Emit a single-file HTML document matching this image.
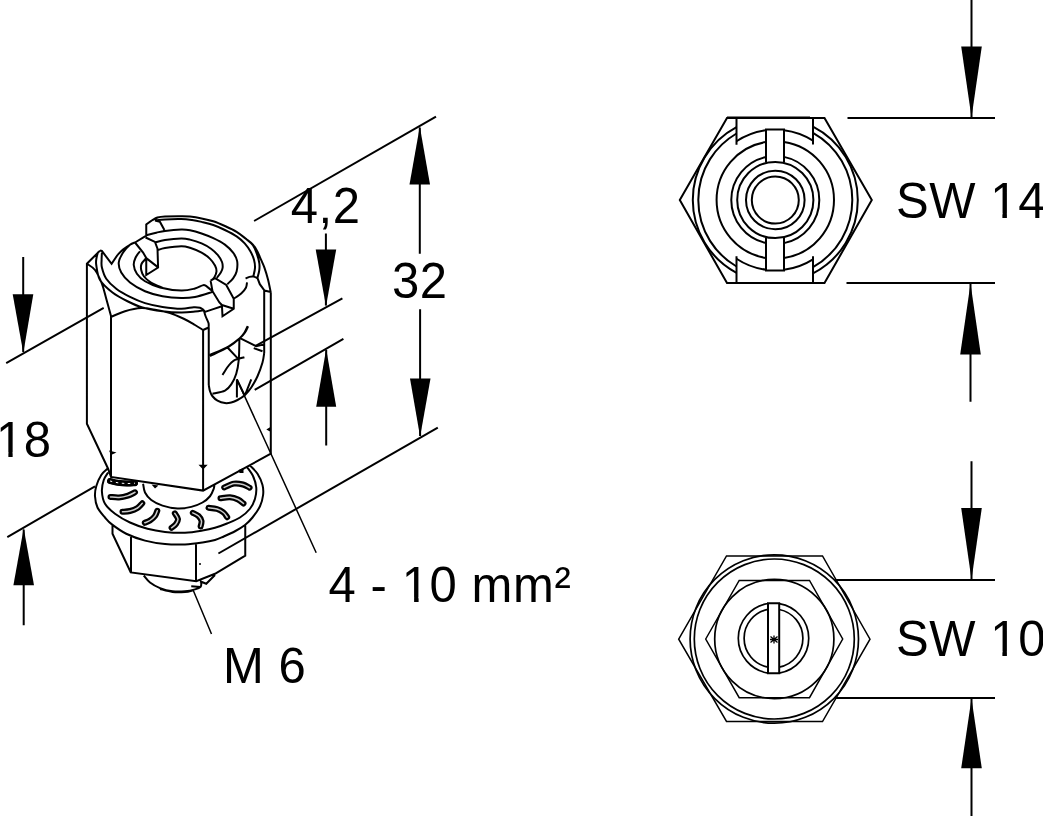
<!DOCTYPE html>
<html>
<head>
<meta charset="utf-8">
<title>Drawing</title>
<style>
html,body{margin:0;padding:0;background:#fff;}
body{width:1043px;height:816px;overflow:hidden;}
svg{display:block;}
text{font-family:"Liberation Sans",sans-serif;font-size:49px;letter-spacing:0.6px;fill:#000;}
.l{fill:none;stroke:#000;stroke-width:2;stroke-linecap:butt;stroke-linejoin:miter;}
.t{fill:none;stroke:#000;stroke-width:1.5;}
.m{fill:none;stroke:#000;stroke-width:1.7;}
.a{fill:#000;stroke:none;}
</style>
</head>
<body>
<svg width="1043" height="816" viewBox="0 0 1043 816">
<rect x="0" y="0" width="1043" height="816" fill="#fff"/>

<!-- ===== DIMENSIONS: right side ===== -->
<g id="dims-right">
<path class="l" d="M847.5 118H995 M846.5 283H995 M835 580H995 M835 698H995"/>
<path class="l" d="M971.5 0V117 M970.5 284V401.75 M971.5 461.25V579 M971.5 699V816"/>
<path class="a" d="M961.2 46.5H981.8L971.5 117.5Z"/>
<path class="a" d="M960.2 354.5H980.8L970.5 283.5Z"/>
<path class="a" d="M961.2 508H981.8L971.5 579.5Z"/>
<path class="a" d="M961.2 768.3H981.8L971.5 698.5Z"/>
<text transform="translate(896 217.7) scale(1 1.02)">SW 14</text>
<text transform="translate(896 655.7) scale(1 1.02)">SW 10</text>
</g>

<!-- ===== DIMENSIONS: left side ===== -->
<g id="dims-left">
<!-- 18 -->
<path class="l" d="M6.2 363.2L103.7 307.8 M7.3 537.1L95 486.3"/>
<path class="l" d="M23.2 257V352 M23.7 529.5V625.2"/>
<path class="a" d="M12.7 294.3H33.3L23.3 353Z"/>
<path class="a" d="M13.4 585.2H34L23.7 528.3Z"/>
<!-- 32 -->
<path class="l" d="M254.1 221L436 116.7"/>
<path class="l" d="M218.4 553.5L437.8 427.7"/>
<path class="l" d="M419.8 127.5V253.8 M420.1 309.2V436"/>
<path class="a" d="M409.5 184.5H430L419.8 126.5Z"/>
<path class="a" d="M410 378.5H430.5L420.1 436.8Z"/>
<!-- 4,2 -->
<path class="l" d="M255.2 346.1L342.4 298.4 M254.7 389.8L343.4 338.8"/>
<path class="l" d="M325.9 233.5V305.5 M326.2 350V445.4"/>
<path class="a" d="M315.7 249.4H336.2L326 306.5Z"/>
<path class="a" d="M316.2 406.7H336.2L326.2 349.1Z"/>
<text transform="translate(290.7 222.5) scale(1 1.02)">4,2</text>
<text transform="translate(392 298.3) scale(1 1.02)">32</text>
<text transform="translate(-4 457.3) scale(1 1.02)">18</text>
<text transform="translate(328.5 602.3) scale(1 1.02)">4 - 10 mm²</text>
<text transform="translate(223 683.2) scale(1 1.02)">M 6</text>
</g>

<g id="feet" fill="#fff" stroke="none">
<rect x="992" y="213.4" width="10.4" height="5.4"/><rect x="1006.9" y="213.4" width="10.6" height="5.4"/>
<rect x="992" y="651.4" width="10.4" height="5.4"/><rect x="1006.9" y="651.4" width="10.6" height="5.4"/>
<rect x="-2" y="452.4" width="10.35" height="5.4"/><rect x="12.64" y="452.4" width="10.6" height="5.4"/>
<rect x="403" y="597.4" width="11.1" height="5.4"/><rect x="418.6" y="597.4" width="10.4" height="5.4"/>
</g>
<!-- ===== TOP VIEW (SW 14) ===== -->
<g id="topview">
<path class="l" d="M679.8 200L727 118H824.5L871.8 200L824.5 283H727Z"/>
<path class="l" d="M727 117.5H810"/>
<path class="l" d="M813.00 126.62A82.5 82.5 0 0 1 813.00 273.38 M736.50 272.81A82.5 82.5 0 0 1 736.50 127.19 M813.00 132.86A77 77 0 0 1 813.00 267.14 M736.50 266.51A77 77 0 0 1 736.50 133.49 M736.50 141.26A70.4 70.4 0 0 1 766.00 130.22 M784.00 130.14A70.4 70.4 0 0 1 813.00 140.55 M813.00 259.45A70.4 70.4 0 0 1 784.00 269.86 M766.00 269.78A70.4 70.4 0 0 1 736.50 258.74 M784.00 141.95A58.7 58.7 0 0 1 784.00 258.05 M766.00 257.96A58.7 58.7 0 0 1 766.00 142.04 M784.00 156.87A44 44 0 0 1 784.00 243.13 M766.00 243.01A44 44 0 0 1 766.00 156.99"/>
<circle class="l" cx="775.3" cy="200.0" r="38.1"/>
<circle class="l" cx="775.3" cy="200.0" r="29.3"/>
<circle class="l" cx="775.3" cy="200.0" r="23.5"/>
<path class="l" d="M736.5 118V144.8 M813.0 118V144.6 M736.5 283V256.3 M813.0 283V256.3"/>
<path class="l" d="M766.0 162.5V129.5H784.0V162.5 M766.0 237.5V270.5H784.0V237.5"/>
</g>

<!-- ===== BOTTOM VIEW (SW 10) ===== -->
<g id="botview">
<path class="t" d="M678.7 639.2L726.5 556H822.5L870 639.2L822.5 721.5H726.5Z"/>
<path class="t" d="M705.7 639L739.2 580.5H809.5L842.7 639L809.5 697.7H739.2Z"/>
<circle class="m" cx="774.3" cy="639.0" r="84.2"/>
<circle class="m" cx="774.3" cy="639.0" r="80"/>
<circle class="m" cx="774.3" cy="639.0" r="59.6"/>
<path class="m" d="M768.0 673.07A35.2 35.2 0 0 1 768.0 603.53 M779.2 603.56A35.2 35.2 0 0 1 779.2 673.04 M768.0 667.18A29.4 29.4 0 0 1 768.0 609.42 M779.2 609.46A29.4 29.4 0 0 1 779.2 667.14"/>
<path class="l" d="M768.0 603.3V673.3H779.2V603.3Z"/>
<path d="M770.5 636.5L777.5 642.5M777.5 636.5L770.5 642.5M774 635.5V643.5M770 639.5H778" fill="none" stroke="#000" stroke-width="1.3"/>
</g>

<!-- ===== ISO VIEW ===== -->
<g id="iso">
<path class="l" d="M100.00 250.60L86.90 263.75L86.90 423.75L108.10 468.75L111.00 476.90
M111.00 316.00L111.00 476.90L203.10 490.60L270.80 453.75L270.80 292.50
M203.10 330.00L203.10 490.60
M264.20 290.60L264.20 353.00
M100.00 250.60L101.90 251.00L111.60 263.75L117.50 255.00
M117.50 255.00C118.42 254.08 120.92 251.21 123.00 249.50C125.08 247.79 128.00 245.92 130.00 244.75C132.00 243.58 134.17 242.88 135.00 242.50
M86.90 263.75C88.25 264.79 92.50 266.67 95.00 270.00C97.50 273.33 100.03 278.96 101.90 283.75C103.78 288.54 104.73 293.38 106.25 298.75C107.77 304.12 110.21 313.12 111.00 316.00
M111.00 316.90C113.33 315.96 119.96 312.72 125.00 311.25C130.04 309.78 136.04 308.31 141.25 308.10C146.46 307.89 151.46 309.17 156.25 310.00C161.04 310.83 165.42 311.64 170.00 313.10C174.58 314.56 179.58 316.77 183.75 318.75C187.92 320.73 191.78 323.12 195.00 325.00C198.22 326.88 201.75 329.17 203.10 330.00
M98.00 252.00C97.75 253.00 96.79 255.83 96.50 258.00C96.21 260.17 95.67 261.33 96.25 265.00C96.83 268.67 97.29 275.42 100.00 280.00C102.71 284.58 107.92 288.96 112.50 292.50C117.08 296.04 122.50 298.75 127.50 301.25C132.50 303.75 136.67 305.83 142.50 307.50C148.33 309.17 156.04 310.42 162.50 311.25C168.96 312.08 175.83 312.44 181.25 312.50C186.67 312.56 191.29 311.97 195.00 311.60C198.71 311.23 202.08 310.52 203.50 310.30
M101.90 252.50C101.85 253.75 101.60 257.50 101.60 260.00C101.60 262.50 101.12 264.38 101.90 267.50C102.68 270.62 103.86 275.21 106.25 278.75C108.64 282.29 112.29 285.73 116.25 288.75C120.21 291.77 125.21 294.51 130.00 296.90C134.79 299.29 139.58 301.43 145.00 303.10C150.42 304.77 156.46 305.96 162.50 306.90C168.54 307.84 176.04 308.70 181.25 308.75C186.46 308.80 190.62 307.36 193.75 307.20C196.88 307.04 198.33 307.33 200.00 307.80C201.67 308.27 203.12 309.63 203.75 310.00
M135.00 242.50C134.17 242.88 131.98 243.08 130.00 244.75C128.02 246.42 124.97 249.54 123.10 252.50C121.22 255.46 119.06 259.17 118.75 262.50C118.44 265.83 119.38 269.17 121.25 272.50C123.12 275.83 126.04 279.38 130.00 282.50C133.96 285.62 139.58 288.96 145.00 291.25C150.42 293.54 156.46 295.11 162.50 296.25C168.54 297.39 175.83 297.98 181.25 298.10C186.67 298.23 189.79 298.03 195.00 297.00C200.21 295.97 209.58 292.75 212.50 291.90
M140.00 251.25C139.27 252.29 136.64 255.21 135.60 257.50C134.56 259.79 133.53 262.29 133.75 265.00C133.97 267.71 135.03 271.04 136.90 273.75C138.78 276.46 141.15 278.96 145.00 281.25C148.85 283.54 153.96 285.94 160.00 287.50C166.04 289.06 175.42 290.43 181.25 290.60C187.08 290.77 191.46 289.37 195.00 288.50C198.54 287.63 200.73 285.88 202.50 285.40C204.27 284.92 203.93 284.62 205.60 285.60C207.27 286.58 211.35 290.31 212.50 291.25
M146.00 258.50C145.25 259.42 142.30 262.08 141.50 264.00C140.70 265.92 140.78 267.92 141.20 270.00C141.62 272.08 142.37 274.42 144.00 276.50C145.63 278.58 147.83 280.62 151.00 282.50C154.17 284.38 161.00 286.92 163.00 287.80
M146.25 224.40C147.29 223.67 150.62 221.15 152.50 220.00C154.38 218.85 155.42 218.08 157.50 217.50C159.58 216.92 161.04 216.71 165.00 216.50C168.96 216.29 177.08 216.23 181.25 216.25C185.42 216.27 186.61 216.24 190.00 216.60C193.39 216.96 197.72 217.62 201.60 218.40C205.48 219.18 209.42 220.03 213.30 221.30C217.18 222.57 221.02 224.25 224.90 226.00C228.78 227.75 233.10 229.67 236.60 231.80C240.10 233.93 243.18 236.67 245.90 238.80C248.62 240.93 250.97 242.47 252.90 244.60C254.83 246.73 256.15 249.08 257.50 251.60C258.85 254.12 259.83 256.98 261.00 259.70C262.17 262.42 263.33 264.60 264.50 267.90C265.67 271.20 266.95 275.40 268.00 279.50C269.05 283.60 270.33 290.33 270.80 292.50
M245.90 238.80C247.07 239.87 251.07 242.68 252.90 245.20C254.73 247.72 255.83 250.90 256.90 253.90C257.97 256.90 258.90 260.48 259.30 263.20C259.70 265.92 259.60 267.77 259.30 270.20C259.00 272.63 257.80 276.53 257.50 277.80
M155.00 220.60C156.67 220.40 160.62 219.67 165.00 219.40C169.38 219.13 176.75 218.90 181.25 219.00C185.75 219.10 188.61 219.52 192.00 220.00C195.39 220.48 198.05 221.07 201.60 221.90C205.15 222.73 209.42 223.65 213.30 225.00C217.18 226.35 221.02 228.10 224.90 230.00C228.78 231.90 233.30 234.17 236.60 236.40C239.90 238.63 242.38 240.87 244.70 243.40C247.02 245.93 248.95 248.88 250.50 251.60C252.05 254.32 253.25 256.98 254.00 259.70C254.75 262.42 255.10 265.18 255.00 267.90C254.90 270.62 253.67 274.65 253.40 276.00
M146.90 235.00C148.46 234.62 153.23 233.43 156.25 232.75C159.27 232.07 160.83 231.43 165.00 230.90C169.17 230.38 177.08 229.70 181.25 229.60C185.42 229.50 186.61 229.65 190.00 230.30C193.39 230.95 197.72 232.18 201.60 233.50C205.48 234.82 209.42 236.35 213.30 238.20C217.18 240.05 221.60 242.18 224.90 244.60C228.20 247.02 231.07 249.98 233.10 252.70C235.13 255.42 236.52 257.78 237.10 260.90C237.68 264.02 237.27 268.50 236.60 271.40C235.93 274.30 234.65 276.17 233.10 278.30C231.55 280.43 228.27 283.22 227.30 284.20
M155.00 242.50C156.67 242.08 160.62 240.67 165.00 240.00C169.38 239.33 177.08 238.57 181.25 238.50C185.42 238.43 186.61 238.78 190.00 239.60C193.39 240.42 198.10 241.88 201.60 243.40C205.10 244.92 208.28 246.75 211.00 248.70C213.72 250.65 216.07 252.88 217.90 255.10C219.73 257.32 221.22 259.87 222.00 262.00C222.78 264.13 222.80 266.15 222.60 267.90C222.40 269.65 221.77 270.85 220.80 272.50C219.83 274.15 217.47 276.92 216.80 277.80
M158.10 250.00C159.25 249.68 161.14 248.72 165.00 248.10C168.86 247.47 177.08 246.30 181.25 246.25C185.42 246.20 186.61 246.73 190.00 247.80C193.39 248.88 198.30 250.90 201.60 252.70C204.90 254.50 207.57 256.47 209.80 258.60C212.03 260.73 213.88 263.37 215.00 265.50C216.12 267.63 216.60 269.45 216.50 271.40C216.40 273.35 215.32 275.65 214.40 277.20C213.48 278.75 211.57 280.12 211.00 280.70
M157.50 217.50L152.50 220.00L146.25 224.40L146.25 235.60L135.00 242.50
M155.00 220.60L160.00 221.90L164.40 230.00
M145.60 237.50L155.00 241.90L157.50 248.75L158.10 267.50L146.25 275.00L146.25 258.10L157.50 266.90
M135.00 242.50L143.10 252.50L146.25 258.10
M210.60 280.60L215.00 278.10L226.25 285.00L233.75 298.75L233.75 308.75L222.50 316.25L221.90 305.00L219.40 302.50L212.50 291.25L210.60 280.60
M221.90 305.00L233.75 308.75
M203.75 310.00L205.00 311.90L212.50 309.40L221.90 306.25
M203.75 310.00C204.06 311.04 204.81 314.07 205.60 316.25C206.39 318.43 208.00 321.23 208.50 323.10C209.00 324.98 208.58 326.77 208.60 327.50
M208.60 327.50L203.10 330.00
M233.75 298.75C234.99 297.88 239.17 295.34 241.20 293.50C243.22 291.66 244.93 289.55 245.90 287.70C246.87 285.85 246.82 283.28 247.00 282.40
M245.60 278.60C246.23 278.32 248.10 277.23 249.40 276.90C250.70 276.57 252.05 276.40 253.40 276.60C254.75 276.80 256.82 277.85 257.50 278.10
M257.50 278.10L259.80 284.20L264.50 290.60L270.80 292.00
M208.75 327.5L208.75 385
M208.75 385.00C208.96 386.04 209.38 389.38 210.00 391.25C210.62 393.12 211.25 394.69 212.50 396.25C213.75 397.81 215.42 399.46 217.50 400.60C219.58 401.74 222.71 402.78 225.00 403.10C227.29 403.42 229.17 403.02 231.25 402.50C233.33 401.98 235.21 401.25 237.50 400.00C239.79 398.75 242.71 397.08 245.00 395.00C247.29 392.92 249.17 390.62 251.25 387.50C253.33 384.38 255.62 380.42 257.50 376.25C259.38 372.08 261.38 366.38 262.50 362.50C263.62 358.62 263.92 354.58 264.20 353.00
M248.10 326.25C247.58 327.29 246.35 330.52 245.00 332.50C243.65 334.48 242.71 335.81 240.00 338.10C237.29 340.39 233.75 343.43 228.75 346.25C223.75 349.07 213.12 353.54 210.00 355.00
M247.60 326.25C247.08 327.29 245.85 330.46 244.50 332.50C243.15 334.54 242.17 336.08 239.50 338.50C236.83 340.92 233.42 344.08 228.50 347.00C223.58 349.92 213.08 354.50 210.00 356.00
M212.50 393.75C214.58 393.23 221.88 392.16 225.00 390.60C228.12 389.04 229.38 387.21 231.25 384.40C233.12 381.59 235.00 377.82 236.25 373.75C237.50 369.68 238.22 365.83 238.75 360.00C239.28 354.17 239.29 342.29 239.40 338.75
M227.50 347.50L237.50 358.10
M222.50 375.00C223.42 373.58 226.12 368.90 228.00 366.50C229.88 364.10 231.02 362.14 233.75 360.60C236.48 359.06 242.62 357.81 244.40 357.25
M240.00 338.10L256.25 346.25L264.20 344.40
M253.75 348.10L262.50 351.25
M236.90 397.50L236.90 379.40L244.40 395.00
M251.25 379.40L245.00 395.00
M107.50 468.75C106.46 469.79 103.12 472.08 101.25 475.00C99.38 477.92 97.29 482.71 96.25 486.25C95.21 489.79 94.79 492.71 95.00 496.25C95.21 499.79 95.83 503.96 97.50 507.50C99.17 511.04 102.60 514.68 105.00 517.50C107.40 520.32 108.36 521.69 111.90 524.40C115.44 527.11 120.73 531.05 126.25 533.75C131.77 536.45 138.54 538.89 145.00 540.60C151.46 542.31 158.33 543.37 165.00 544.00C171.67 544.63 178.75 544.65 185.00 544.40C191.25 544.15 197.50 543.23 202.50 542.50C207.50 541.77 211.46 541.00 215.00 540.00C218.54 539.00 220.42 537.96 223.75 536.50C227.08 535.04 231.46 533.17 235.00 531.25C238.54 529.33 242.08 527.29 245.00 525.00C247.92 522.71 250.00 520.62 252.50 517.50C255.00 514.38 258.23 510.00 260.00 506.25C261.77 502.50 262.68 498.54 263.10 495.00C263.52 491.46 263.43 488.54 262.50 485.00C261.57 481.46 259.58 476.98 257.50 473.75C255.42 470.52 251.25 466.96 250.00 465.60
M108.10 472.50C107.38 473.75 104.78 476.88 103.75 480.00C102.72 483.12 101.69 487.29 101.90 491.25C102.11 495.21 102.82 500.00 105.00 503.75C107.18 507.50 110.83 510.62 115.00 513.75C119.17 516.88 124.58 520.00 130.00 522.50C135.42 525.00 141.67 527.18 147.50 528.75C153.33 530.32 158.75 531.23 165.00 531.90C171.25 532.57 178.75 532.97 185.00 532.75C191.25 532.53 197.50 531.43 202.50 530.60C207.50 529.77 210.92 528.98 215.00 527.80C219.08 526.62 222.83 525.22 227.00 523.50C231.17 521.78 236.17 519.96 240.00 517.50C243.83 515.04 247.50 511.88 250.00 508.75C252.50 505.62 253.96 502.29 255.00 498.75C256.04 495.21 256.57 491.25 256.25 487.50C255.93 483.75 254.66 479.68 253.10 476.25C251.54 472.82 247.93 468.46 246.90 466.90
M143.10 483.75C143.42 485.21 143.64 489.79 145.00 492.50C146.36 495.21 148.33 497.82 151.25 500.00C154.17 502.18 158.12 504.18 162.50 505.60C166.88 507.02 172.71 508.28 177.50 508.50C182.29 508.72 187.08 507.90 191.25 506.90C195.42 505.90 199.38 504.27 202.50 502.50C205.62 500.73 208.12 498.54 210.00 496.25C211.88 493.96 213.02 490.69 213.75 488.75C214.48 486.81 214.29 485.29 214.40 484.60
M112.50 525.60L112.50 533.75L130.80 572.50
M131.00 536.25L131.00 572.50L196.25 581.25L215.00 573.75L245.25 555.60L245.25 525.60
M196.00 544.40L196.00 581.25
M143.75 575.60C144.79 576.75 147.29 580.42 150.00 582.50C152.71 584.58 156.25 586.64 160.00 588.10C163.75 589.56 168.33 590.73 172.50 591.25C176.67 591.77 181.25 591.56 185.00 591.25C188.75 590.94 192.40 590.12 195.00 589.40C197.60 588.67 199.56 588.05 200.60 586.90C201.64 585.75 201.14 583.23 201.25 582.50
M160.00 589.00C162.08 589.50 168.33 591.50 172.50 592.00C176.67 592.50 181.58 592.28 185.00 592.00C188.42 591.72 191.67 590.58 193.00 590.30
M200.00 581.25L206.25 583.75L215.00 575.00
M191.25 586.25L200.60 586.90"/>
<path class="t" d="M236.9 379.4L316.2 552.7 M193.1 590L211.5 634"/>
<path d="M110.00 481.00C111.33 481.30 115.17 482.38 118.00 482.80C120.83 483.22 124.17 483.43 127.00 483.50C129.83 483.57 133.67 483.25 135.00 483.20 M110.50 496.90C111.92 497.00 116.08 497.72 119.00 497.50C121.92 497.28 125.33 496.47 128.00 495.60C130.67 494.73 133.83 492.85 135.00 492.30 M122.50 511.80C123.75 511.67 127.50 511.63 130.00 511.00C132.50 510.37 135.45 509.28 137.50 508.00C139.55 506.72 141.50 504.08 142.30 503.30 M144.80 522.80C145.67 522.42 148.30 521.63 150.00 520.50C151.70 519.37 153.78 517.62 155.00 516.00C156.22 514.38 156.92 511.67 157.30 510.80 M171.60 527.80C172.33 527.17 174.93 525.47 176.00 524.00C177.07 522.53 178.20 520.78 178.00 519.00C177.80 517.22 175.33 514.25 174.80 513.30 M200.60 526.50C200.75 525.58 201.85 522.75 201.50 521.00C201.15 519.25 199.95 517.37 198.50 516.00C197.05 514.63 193.75 513.33 192.80 512.80 M227.20 517.20C226.58 516.42 225.20 513.87 223.50 512.50C221.80 511.13 219.50 509.78 217.00 509.00C214.50 508.22 209.92 508.00 208.50 507.80 M243.50 503.50C242.58 502.83 240.25 500.53 238.00 499.50C235.75 498.47 232.92 497.52 230.00 497.30C227.08 497.08 222.08 498.05 220.50 498.20 M249.60 487.70C248.50 487.17 245.60 485.18 243.00 484.50C240.40 483.82 237.13 483.10 234.00 483.60C230.87 484.10 225.83 486.85 224.20 487.50" fill="none" stroke="#000" stroke-width="6" stroke-linecap="round"/><path d="M110.00 481.00C111.33 481.30 115.17 482.38 118.00 482.80C120.83 483.22 124.17 483.43 127.00 483.50C129.83 483.57 133.67 483.25 135.00 483.20 M110.50 496.90C111.92 497.00 116.08 497.72 119.00 497.50C121.92 497.28 125.33 496.47 128.00 495.60C130.67 494.73 133.83 492.85 135.00 492.30 M122.50 511.80C123.75 511.67 127.50 511.63 130.00 511.00C132.50 510.37 135.45 509.28 137.50 508.00C139.55 506.72 141.50 504.08 142.30 503.30 M144.80 522.80C145.67 522.42 148.30 521.63 150.00 520.50C151.70 519.37 153.78 517.62 155.00 516.00C156.22 514.38 156.92 511.67 157.30 510.80 M171.60 527.80C172.33 527.17 174.93 525.47 176.00 524.00C177.07 522.53 178.20 520.78 178.00 519.00C177.80 517.22 175.33 514.25 174.80 513.30 M200.60 526.50C200.75 525.58 201.85 522.75 201.50 521.00C201.15 519.25 199.95 517.37 198.50 516.00C197.05 514.63 193.75 513.33 192.80 512.80 M227.20 517.20C226.58 516.42 225.20 513.87 223.50 512.50C221.80 511.13 219.50 509.78 217.00 509.00C214.50 508.22 209.92 508.00 208.50 507.80 M243.50 503.50C242.58 502.83 240.25 500.53 238.00 499.50C235.75 498.47 232.92 497.52 230.00 497.30C227.08 497.08 222.08 498.05 220.50 498.20 M249.60 487.70C248.50 487.17 245.60 485.18 243.00 484.50C240.40 483.82 237.13 483.10 234.00 483.60C230.87 484.10 225.83 486.85 224.20 487.50" fill="none" stroke="#fff" stroke-opacity="0.8" stroke-width="1.5" stroke-linecap="round"/><path d="M110.00 481.00C111.33 481.30 115.17 482.38 118.00 482.80C120.83 483.22 124.17 483.43 127.00 483.50C129.83 483.57 133.67 483.25 135.00 483.20" fill="none" stroke="#000" stroke-width="5.5" stroke-linecap="round"/><path d="M110.00 481.00C111.33 481.30 115.17 482.38 118.00 482.80C120.83 483.22 124.17 483.43 127.00 483.50C129.83 483.57 133.67 483.25 135.00 483.20" fill="none" stroke="#fff" stroke-width="1" stroke-dasharray="2.5 3.5"/>
<path class="a" d="M198.5 464.8H207.7L203.1 469.5Z M109 450.5L116.5 452.5L111 455Z M151.5 484.5L158.5 485.5L155 488.5Z M238.5 470L243.5 468L243.5 473L239.5 473Z M266.3 429.5L270 427.3V431.5Z"/><circle cx="200" cy="564" r="1" fill="#000"/>
</g>
</svg>
</body>
</html>
